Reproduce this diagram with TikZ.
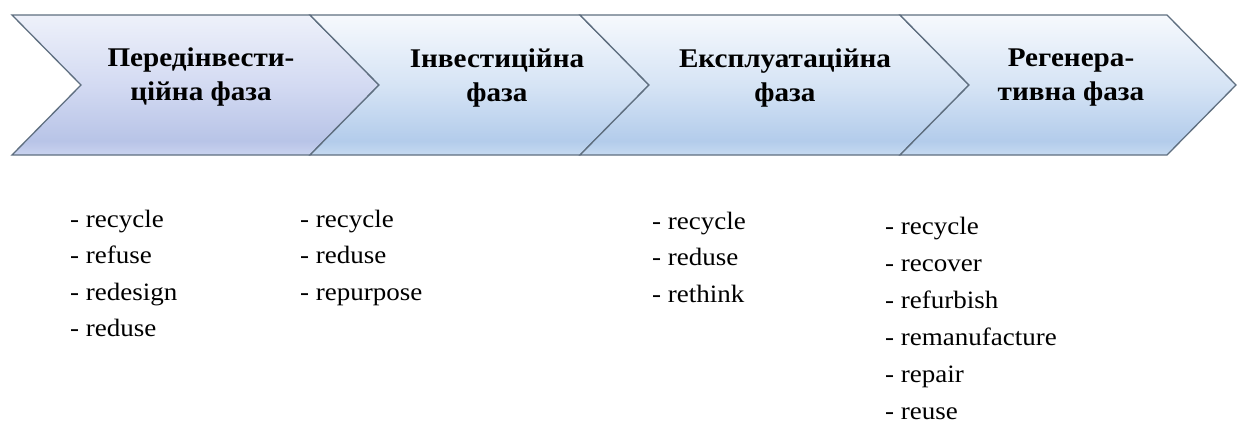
\documentclass[tikz,border=0pt]{standalone}
\usepackage{fontspec}
\setmainfont{Liberation Serif}
\usepackage{graphicx}

% colours of the phase arrows
\definecolor{edgecol}{HTML}{5F6F80}
\definecolor{aTop}{HTML}{EEF1FA}
\definecolor{aMid}{HTML}{D3DAF2}
\definecolor{aLow}{HTML}{B8C4E7}
\definecolor{aBot}{HTML}{CAD3EF}
\definecolor{bTop}{HTML}{F6F9FD}
\definecolor{bMid}{HTML}{D6E4F5}
\definecolor{bLow}{HTML}{B3CCEB}
\definecolor{bBot}{HTML}{C6DAF1}

% vertical gradients; the path spans 25bp (bottom) to 75bp (top)
\pgfdeclareverticalshading{chevA}{100bp}{color(0bp)=(aBot); color(25bp)=(aBot);
  color(30bp)=(aLow); color(50bp)=(aMid); color(75bp)=(aTop); color(100bp)=(aTop)}
\pgfdeclareverticalshading{chevB}{100bp}{color(0bp)=(bBot); color(25bp)=(bBot);
  color(30bp)=(bLow); color(50bp)=(bMid); color(75bp)=(bTop); color(100bp)=(bTop)}

\newcommand{\headtext}[1]{\scalebox{1.08}[1]{\fontsize{27}{34}\selectfont\bfseries
  \begin{tabular}[t]{@{}c@{}}#1\end{tabular}}}
\newcommand{\listtext}[2]{\scalebox{1.08}[1]{\fontsize{25}{#1}\selectfont
  \begin{tabular}[t]{@{}l@{}}#2\end{tabular}}}

\tikzset{
  chevron/.style={draw=edgecol, line width=1.3pt, line join=miter},
  phase/.style={inner sep=0pt, anchor=base},
  items/.style={inner sep=0pt, anchor=base west},
}

\begin{document}
\begin{tikzpicture}[x=1pt, y=-1pt]
\fill[white] (0,0) rectangle (1237,423);
\useasboundingbox (0,0) rectangle (1237,423);

% the four phase arrows, each notched into the tip of the previous one
\foreach \L/\R/\sh in {12/310/chevA, 310/580/chevB, 580/900/chevB, 900/1167/chevB}{
  \path[chevron, shading=\sh]
    (\L,15) -- (\R,15) -- ++(69,70) -- (\R,155) -- (\L,155) -- ++(69,-70) -- cycle;
}

% phase titles
\node[phase] (h1) at (201,66) {\headtext{Передінвести-\\ційна фаза}};
\node[phase] (h2) at (497,67) {\headtext{Інвестиційна\\фаза}};
\node[phase] (h3) at (785,67) {\headtext{Експлуатаційна\\фаза}};
\node[phase] (h4) at (1071,66) {\headtext{Регенера-\\тивна фаза}};

% strategies of each phase
\node[items] (l1) at (70,227) {\listtext{36.6}{- recycle\\- refuse\\- redesign\\- reduse}};
\node[items] (l2) at (300,227) {\listtext{36.6}{- recycle\\- reduse\\- repurpose}};
\node[items] (l3) at (652,229) {\listtext{36.6}{- recycle\\- reduse\\- rethink}};
\node[items] (l4) at (885,234) {\listtext{37}{- recycle\\- recover\\- refurbish\\- remanufacture\\- repair\\- reuse}};
\end{tikzpicture}
\end{document}
